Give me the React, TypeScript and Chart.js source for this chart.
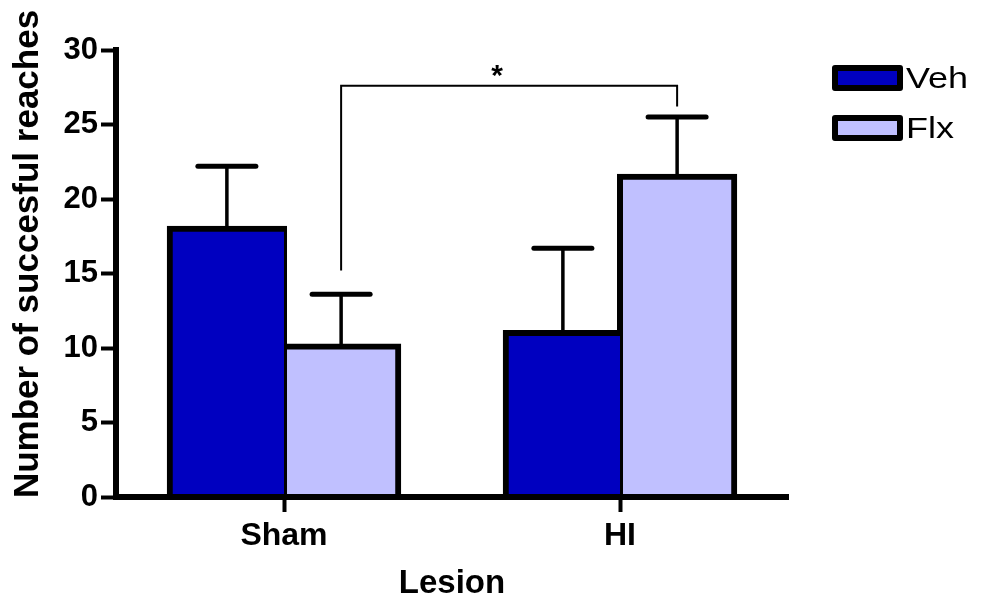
import React, { useEffect, useRef } from "react";
import { Chart, registerables } from "chart.js";

Chart.register(...registerables);

const categories = ["Sham", "HI"];
const seriesNames = ["Veh", "Flx"];
const vehMeans = [18.0, 11.0];
const vehErrors = [4.2, 5.7];
const flxMeans = [10.1, 21.5];
const flxErrors = [3.5, 4.0];
const yTicks = [0, 5, 10, 15, 20, 25, 30];
const yTitle = "Number of succesful reaches";
const xTitle = "Lesion";
// significance bracket: left leg bottom, top level, right leg bottom (data units)
const bracketLevels = [15.2, 27.6, 26.2];
const sigLabel = "*";
const sigLabelPos = [0.634, 28.6];

const VEH_COLOR = "#0000C0";
const FLX_COLOR = "#C0C0FF";
const FONT = "'Liberation Sans', Arial, Helvetica, sans-serif";

const errors = [vehErrors, flxErrors];
const means = [vehMeans, flxMeans];
const colors = [VEH_COLOR, FLX_COLOR];

const annotPlugin = {
  id: "annot",
  afterDatasetsDraw(chart: any) {
    const ctx = chart.ctx;
    const ys = chart.scales.y;
    const xs = chart.scales.x;
    ctx.save();
    ctx.strokeStyle = "#000";
    ctx.lineCap = "round";
    // error bars
    for (let d = 0; d < 2; d++) {
      const meta = chart.getDatasetMeta(d);
      meta.data.forEach((el: any, j: number) => {
        const yTop = ys.getPixelForValue(means[d][j] + errors[d][j]);
        ctx.lineWidth = 3.5;
        ctx.beginPath();
        ctx.moveTo(el.x, el.y - 2);
        ctx.lineTo(el.x, yTop);
        ctx.stroke();
        ctx.lineWidth = 5;
        ctx.beginPath();
        ctx.moveTo(el.x - 29, yTop);
        ctx.lineTo(el.x + 29, yTop);
        ctx.stroke();
      });
    }
    // bracket
    const flxMeta = chart.getDatasetMeta(1);
    const x1 = flxMeta.data[0].x;
    const x2 = flxMeta.data[1].x;
    ctx.lineWidth = 2;
    ctx.lineCap = "butt";
    ctx.beginPath();
    ctx.moveTo(x1, ys.getPixelForValue(bracketLevels[0]));
    ctx.lineTo(x1, ys.getPixelForValue(bracketLevels[1]));
    ctx.lineTo(x2, ys.getPixelForValue(bracketLevels[1]));
    ctx.lineTo(x2, ys.getPixelForValue(bracketLevels[2]));
    ctx.stroke();
    ctx.fillStyle = "#000";
    ctx.font = `bold 30px ${FONT}`;
    ctx.textAlign = "center";
    ctx.textBaseline = "middle";
    ctx.fillText(sigLabel, xs.getPixelForValue(sigLabelPos[0]), ys.getPixelForValue(sigLabelPos[1]) + 6);
    ctx.restore();
  },
  afterDraw(chart: any) {
    const ctx = chart.ctx;
    const area = chart.chartArea;
    ctx.save();
    ctx.fillStyle = "#000";
    // y title
    ctx.save();
    ctx.translate(28, 254);
    ctx.rotate(-Math.PI / 2);
    ctx.font = `bold 35px ${FONT}`;
    ctx.textAlign = "center";
    ctx.textBaseline = "middle";
    ctx.fillText(yTitle, 0, 0);
    ctx.restore();
    // x title
    ctx.font = `bold 33px ${FONT}`;
    ctx.textAlign = "center";
    ctx.textBaseline = "middle";
    ctx.fillText(xTitle, (area.left + area.right) / 2, 584);
    // legend
    const boxTops = [65, 115];
    const baselines = [88, 138];
    for (let i = 0; i < seriesNames.length; i++) {
      ctx.fillStyle = colors[i];
      ctx.strokeStyle = "#000";
      ctx.lineWidth = 6;
      ctx.lineJoin = "round";
      ctx.beginPath();
      ctx.rect(835, boxTops[i] + 3, 65, 20);
      ctx.fill();
      ctx.stroke();
      ctx.save();
      ctx.fillStyle = "#000";
      ctx.font = `30px ${FONT}`;
      ctx.textAlign = "left";
      ctx.textBaseline = "alphabetic";
      ctx.translate(906, baselines[i]);
      ctx.scale(1.2, 1);
      ctx.fillText(seriesNames[i], 0, 0);
      ctx.restore();
    }
    ctx.restore();
  },
};

export default function App() {
  const ref = useRef<HTMLCanvasElement | null>(null);
  useEffect(() => {
    document.body.style.margin = "0";
    const canvas = ref.current!;
    const chart = new Chart(canvas, {
      type: "bar",
      data: {
        labels: categories,
        datasets: [
          {
            label: seriesNames[0],
            data: vehMeans,
            backgroundColor: VEH_COLOR,
            borderColor: "#000",
            borderWidth: { top: 6, left: 6, right: 3, bottom: 0 } as any,
            borderSkipped: "start",
            inflateAmount: 3,
            categoryPercentage: 0.68,
            barPercentage: 1,
          } as any,
          {
            label: seriesNames[1],
            data: flxMeans,
            backgroundColor: FLX_COLOR,
            borderColor: "#000",
            borderWidth: { top: 6, left: 6, right: 6, bottom: 0 } as any,
            borderSkipped: "start",
            inflateAmount: 3,
            categoryPercentage: 0.68,
            barPercentage: 1,
          } as any,
        ],
      },
      options: {
        animation: false,
        responsive: false,
        devicePixelRatio: 1,
        layout: { padding: { top: 50, right: 195, left: 0, bottom: 0 } },
        plugins: { legend: { display: false }, tooltip: { enabled: false } },
        scales: {
          x: {
            offset: true,
            grid: {
              display: true,
              offset: false,
              drawOnChartArea: false,
              drawTicks: true,
              tickLength: 15,
              tickWidth: 4,
              tickColor: "#000",
            },
            border: { display: true, color: "#000", width: 6, z: 1 },
            ticks: {
              color: "#000",
              padding: 5,
              font: { family: FONT, size: 32, weight: "bold" },
            },
            afterFit(scale: any) {
              scale.height = 108;
            },
          },
          y: {
            min: 0,
            max: 30,
            afterBuildTicks(scale: any) {
              scale.ticks = yTicks.map((v) => ({ value: v }));
            },
            grid: {
              display: true,
              drawOnChartArea: false,
              drawTicks: true,
              tickLength: 15,
              tickWidth: 4,
              tickColor: "#000",
            },
            border: { display: true, color: "#000", width: 6 },
            ticks: {
              color: "#000",
              padding: 3,
              font: { family: FONT, size: 31, weight: "bold" },
            },
            afterFit(scale: any) {
              scale.width = 116;
            },
          },
        },
      },
      plugins: [annotPlugin],
    });
    return () => chart.destroy();
  }, []);
  return (
    <div style={{ width: 983, height: 605 }}>
      <canvas ref={ref} width={983} height={605} />
    </div>
  );
}
